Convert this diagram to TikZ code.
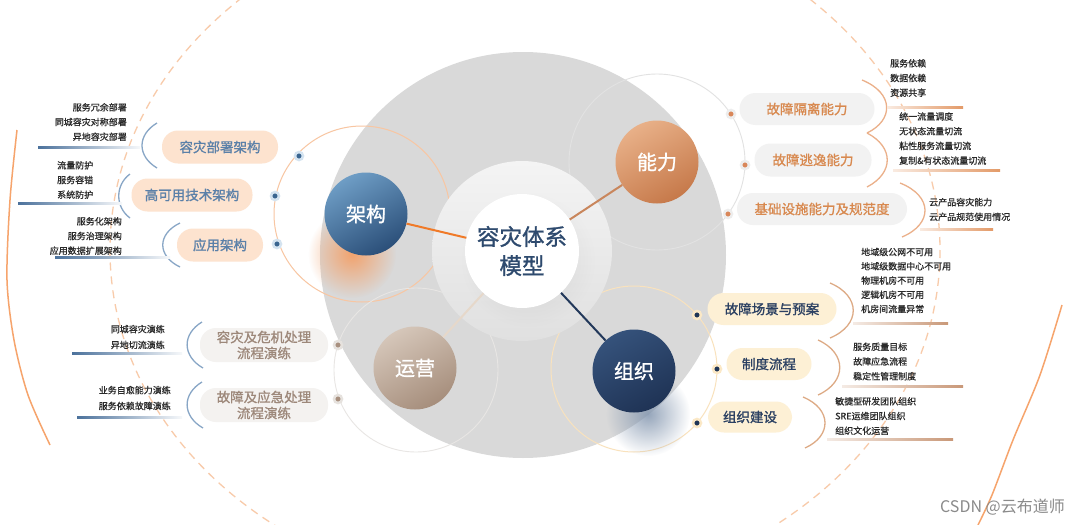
\documentclass[tikz,border=0pt]{standalone}
\usepackage{fontspec}
\setmainfont{Noto Sans CJK SC}
\newfontfamily\medf[FakeBold=1.2]{Noto Sans CJK SC}
\newfontfamily\leaff[FakeBold=0.8]{Noto Sans CJK SC}
\usetikzlibrary{fadings}
\definecolor{bgGray}{HTML}{D9D9D9}
\definecolor{ringTop}{HTML}{F4F4F4}
\definecolor{ringBot}{HTML}{E0E0E0}
\definecolor{jgA}{HTML}{6E9DC5}
\definecolor{jgB}{HTML}{2B4F79}
\definecolor{nlA}{HTML}{E8B088}
\definecolor{nlB}{HTML}{C6794A}
\definecolor{yyA}{HTML}{D5C6B9}
\definecolor{yyB}{HTML}{A68E7C}
\definecolor{zzA}{HTML}{35527B}
\definecolor{zzB}{HTML}{1F3355}
\definecolor{peach}{HTML}{FDE3CF}
\definecolor{peachTx}{HTML}{5B80A8}
\definecolor{pgray}{HTML}{F2F2F2}
\definecolor{nlTx}{HTML}{D8894F}
\definecolor{ypill}{HTML}{F4F2F0}
\definecolor{yyTx}{HTML}{9D887A}
\definecolor{cream}{HTML}{FDF0D5}
\definecolor{zzTx}{HTML}{2B4062}
\definecolor{leafc}{HTML}{2A2A2A}
\definecolor{centerTx}{HTML}{2E4A6E}
\definecolor{dashc}{HTML}{F8CBAA}
\definecolor{outerc}{HTML}{F6A46C}
\definecolor{orbJ}{HTML}{F8C6A2}
\definecolor{orbN}{HTML}{E2E2E2}
\definecolor{orbY}{HTML}{E8E6E4}
\definecolor{orbZ}{HTML}{F9E2BD}
\definecolor{lnJ}{HTML}{F07A28}
\definecolor{lnN}{HTML}{C9865C}
\definecolor{lnY}{HTML}{E6D8CA}
\definecolor{lnZ}{HTML}{22385A}
\definecolor{brkL}{HTML}{88A6C6}
\definecolor{brkN}{HTML}{EBB08A}
\definecolor{brkZ}{HTML}{DDAA85}
\definecolor{lineL}{HTML}{4C729C}
\definecolor{lineN}{HTML}{E39A68}
\definecolor{lineZ}{HTML}{C99878}
\definecolor{glowOr}{HTML}{F2A36E}
\definecolor{shadB}{HTML}{8396AF}
\definecolor{wmc}{HTML}{8A8A8A}
\definecolor{dJ}{HTML}{3A6590}
\definecolor{dJh}{HTML}{D4E3F0}
\definecolor{dN}{HTML}{D9875A}
\definecolor{dNh}{HTML}{EDEDED}
\definecolor{dY}{HTML}{A8907F}
\definecolor{dYh}{HTML}{E6E2DE}
\definecolor{dZ}{HTML}{1F3556}
\definecolor{dZh}{HTML}{FBE8C6}
\tikzfading[name=glowfade, inner color=transparent!0, outer color=transparent!100]
\begin{document}
\begin{tikzpicture}[x=1pt,y=-1pt,
  pill/.style={rounded corners=16pt, minimum height=33pt, inner sep=0pt, align=center, font=\medf\fontsize{13.5}{16}\selectfont},
  leaf/.style={font=\leaff\fontsize{9}{14.7}\selectfont, text=leafc, inner sep=0pt},
  bigc/.style={circle, minimum size=83pt, inner sep=0pt, text=white, font=\medf\fontsize{20}{24}\selectfont},
  dotbase/.style={circle, minimum size=8pt, inner sep=0pt, line width=2.5pt},
  dotJ/.style={dotbase, fill=dJ, draw=dJh},
  dotN/.style={dotbase, fill=dN, draw=dNh},
  dotY/.style={dotbase, fill=dY, draw=dYh},
  dotZ/.style={dotbase, fill=dZ, draw=dZh},
  brk/.style={line width=1.3pt},
  conn/.style={line width=2pt}]
\useasboundingbox (0,0) rectangle (1080,525);
\fill[white] (0,0) rectangle (1080,525);
\begin{scope}
\clip (0,0) rectangle (1080,525);
\draw[dashc, line width=1.3pt, dash pattern=on 8pt off 6pt] (525,250) ellipse [x radius=415, y radius=345];
\draw[outerc, line width=1.5pt] plot[smooth] coordinates {(17,130) (10,200) (7,280) (14,340) (28,395) (50,445)};
\draw[outerc, line width=1.5pt] plot[smooth] coordinates {(1062,305) (1040,375) (1013,440) (992,495) (978,525)};
\end{scope}
% big gray disc
\fill[bgGray] (523,255) circle (203);
% orbits
\draw[orbJ, line width=1pt] (362,214) circle (88);
\draw[orbN, line width=0.9pt] (657,162) circle (88);
\draw[orbY, line width=0.9pt] (416,370) circle (82);
\draw[orbZ, line width=1pt] (634,369) circle (83);
% inner ring
\shade[top color=ringTop, bottom color=ringBot] (522,251) circle (90);
\fill[black, opacity=0.08, path fading=glowfade] (528,260) circle (68);
% glows
\fill[glowOr, path fading=glowfade] (352,254) circle (44);
\fill[shadB, opacity=0.85, path fading=glowfade] (648,414) circle (42);
% center
\node[circle, fill=white, minimum size=114pt, inner sep=0pt, align=center, text=centerTx, font=\medf\fontsize{22.5}{29}\selectfont] (c) at (522,251) {容灾体系\\模型};
% main circles
\node[bigc, top color=jgA, bottom color=jgB, shading angle=30] (jg) at (366,214) {架构};
\node[bigc, top color=nlA, bottom color=nlB, shading angle=30] (nl) at (657,162) {能力};
\node[bigc, top color=yyA, bottom color=yyB, shading angle=30] (yy) at (415,368) {运营};
\node[bigc, top color=zzA, bottom color=zzB, shading angle=30] (zz) at (634,371) {组织};
% connectors
\draw[conn, lnJ] (jg) -- (c);
\draw[conn, lnN] (nl) -- (c);
\draw[conn, lnY] (yy) -- (c);
\draw[conn, lnZ] (zz) -- (c);
% ---------- left: 架构 ----------
\node[pill, fill=peach, text=peachTx, minimum width=116pt] (p1) at (220,147) {容灾部署架构};
\node[pill, fill=peach, text=peachTx, minimum width=121pt] (p2) at (192,195) {高可用技术架构};
\node[pill, fill=peach, text=peachTx, minimum width=86pt] (p3) at (220,245) {应用架构};
\node[dotJ] (dj1) at (299,156) {};
\node[dotJ] (dj2) at (275,196) {};
\node[dotJ] (dj3) at (277,244) {};
\draw[brk, brkL] (157,123) .. controls (137,135) and (137,156) .. (157,168);
\draw[brk, brkL] (130,174) .. controls (115,185) and (115,207) .. (130,218);
\draw[brk, brkL] (180,223) .. controls (157,234) and (157,256) .. (180,267);
\shade[left color=lineL, right color=lineL!5] (38,146) rectangle (140,148.5);
\shade[left color=lineL, right color=lineL!5] (18,202) rectangle (122,204.5);
\shade[left color=lineL, right color=lineL!5] (55,256) rectangle (170,258.5);
\node[leaf, anchor=east, align=right] (la) at (127,122) {服务冗余部署\\同城容灾对称部署\\异地容灾部署};
\node[leaf, anchor=west, align=left] (lb) at (57,180) {流量防护\\服务容错\\系统防护};
\node[leaf, anchor=east, align=right] (lc) at (122,236) {服务化架构\\服务治理架构\\应用数据扩展架构};
% ---------- left bottom: 运营 ----------
\node[pill, fill=ypill, text=yyTx, minimum width=128pt, minimum height=34pt] (p4) at (264,345) {容灾及危机处理\\流程演练};
\node[pill, fill=ypill, text=yyTx, minimum width=128pt, minimum height=34pt] (p5) at (264,405) {故障及应急处理\\流程演练};
\node[dotY] (dy1) at (338,345) {};
\node[dotY] (dy2) at (338,399) {};
\draw[brk, brkL] (202,322) .. controls (182,334) and (182,356) .. (203,368);
\draw[brk, brkL] (202,382) .. controls (182,394) and (182,416) .. (203,428);
\shade[left color=lineL, right color=lineL!5] (72,352) rectangle (182,354.5);
\shade[left color=lineL, right color=lineL!5] (77,416) rectangle (182,418.5);
\node[leaf, anchor=east, align=right, font=\leaff\fontsize{9}{15.8}\selectfont] (ld) at (165,337) {同城容灾演练\\异地切流演练};
\node[leaf, anchor=east, align=right, font=\leaff\fontsize{9}{15.8}\selectfont] (le) at (171,398) {业务自愈能力演练\\服务依赖故障演练};
% ---------- right top: 能力 ----------
\node[pill, fill=pgray, text=nlTx, minimum width=135pt, minimum height=32pt] (p6) at (807,109) {故障隔离能力};
\node[pill, fill=pgray, text=nlTx, minimum width=117pt, minimum height=33pt] (p7) at (813,160) {故障逃逸能力};
\node[pill, fill=pgray, text=nlTx, minimum width=170pt, minimum height=32pt] (p8) at (822,209) {基础设施能力及规范度};
\node[dotN] (dn1) at (731,114) {};
\node[dotN] (dn2) at (745,165) {};
\node[dotN] (dn3) at (728,214) {};
\draw[brk, brkN] (862,80) .. controls (894,93) and (894,120) .. (867,133);
\draw[brk, brkN] (867,133) .. controls (894,147) and (894,173) .. (867,187);
\draw[brk, brkN] (900,183) .. controls (933,196) and (933,224) .. (902,237);
\shade[left color=lineN!20, right color=lineN] (887,106) rectangle (963,108.5);
\shade[left color=lineN!20, right color=lineN] (893,169) rectangle (1000,171.5);
\shade[left color=lineN!20, right color=lineN] (920,228) rectangle (993,230.5);
\node[leaf, anchor=west, align=left] (lf) at (890,78) {服务依赖\\数据依赖\\资源共享};
\node[leaf, anchor=west, align=left] (lg) at (899,138.5) {统一流量调度\\无状态流量切流\\粘性服务流量切流\\复制\&有状态流量切流};
\node[leaf, anchor=west, align=left] (lh) at (929,209.5) {云产品容灾能力\\云产品规范使用情况};
% ---------- right bottom: 组织 ----------
\node[pill, fill=cream, text=zzTx, minimum width=129pt, minimum height=32pt] (p9) at (772,309) {故障场景与预案};
\node[pill, fill=cream, text=zzTx, minimum width=85pt, minimum height=32pt] (p10) at (769,364) {制度流程};
\node[pill, fill=cream, text=zzTx, minimum width=84pt, minimum height=31pt] (p11) at (750,417) {组织建设};
\node[dotZ] (dz1) at (697,315) {};
\node[dotZ] (dz2) at (717,369) {};
\node[dotZ] (dz3) at (697,423) {};
\draw[brk, brkZ] (830,283) .. controls (861,296) and (861,325) .. (830,338);
\draw[brk, brkZ] (818,340) .. controls (847,353) and (847,382) .. (818,395);
\draw[brk, brkZ] (803,397) .. controls (832,409) and (832,436) .. (805,448);
\shade[left color=lineZ!20, right color=lineZ] (853,322) rectangle (948,324.5);
\shade[left color=lineZ!20, right color=lineZ] (842,385) rectangle (963,387.5);
\shade[left color=lineZ!20, right color=lineZ] (827,438) rectangle (953,440.5);
\node[leaf, anchor=west, align=left, font=\leaff\fontsize{9}{14.25}\selectfont] (li) at (861,280.5) {地域级公网不可用\\地域级数据中心不可用\\物理机房不可用\\逻辑机房不可用\\机房间流量异常};
\node[leaf, anchor=west, align=left] (lj) at (853,361.5) {服务质量目标\\故障应急流程\\稳定性管理制度};
\node[leaf, anchor=west, align=left] (lk) at (835,416) {敏捷型研发团队组织\\SRE运维团队组织\\组织文化运营};
% watermark
\node[anchor=east, text=wmc, font=\fontsize{16}{16}\selectfont, inner sep=0pt] (wm) at (1065,507) {CSDN @云布道师};
\end{tikzpicture}
\end{document}
